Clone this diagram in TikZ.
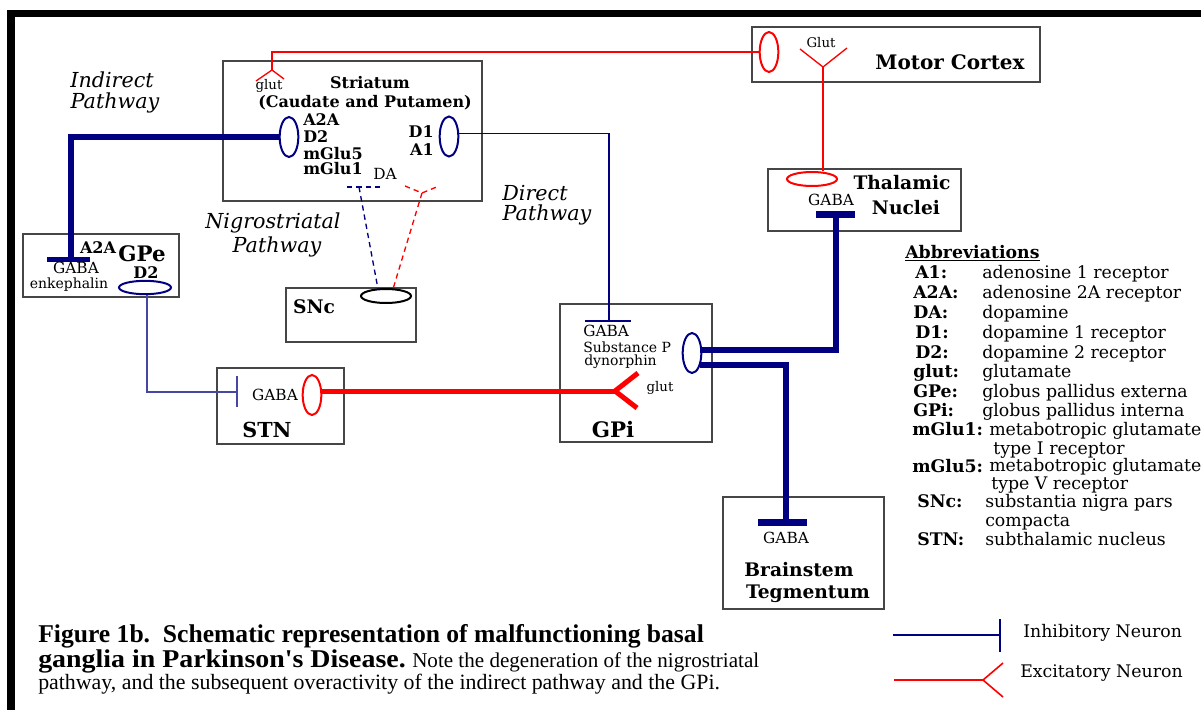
\documentclass[tikz,border=0pt]{standalone}
\usepackage{fontspec}
\usepackage{graphicx}
\setmainfont{DejaVu Serif}
\newfontfamily\tnr{Liberation Serif}
\usetikzlibrary{shapes.geometric,fit,calc}
\definecolor{navy}{RGB}{0,0,128}
\definecolor{lnavy}{RGB}{70,70,165}
\definecolor{rd}{RGB}{255,0,0}
\definecolor{bx}{RGB}{70,70,70}
\newcommand{\fsz}[1]{\fontsize{#1}{#1}\selectfont}
\begin{document}
\begin{tikzpicture}[x=0.75pt,y=-0.75pt,
  box/.style={draw=bx, line width=1.1pt, inner sep=0pt},
  vell/.style={ellipse, draw, line width=1.5pt, minimum width=14pt, minimum height=30pt, inner sep=0pt},
  hell/.style={ellipse, draw, line width=1.5pt, minimum width=37.5pt, minimum height=10.5pt, inner sep=0pt},
  lbl/.style={inner sep=0pt, font=\bfseries\fsz{12}},
  big/.style={inner sep=0pt, font=\bfseries\fsz{14}},
  sml/.style={inner sep=0pt, font=\fsz{10.5}},
  gaba/.style={inner sep=0pt, font=\fsz{11.5}},
  ital/.style={inner sep=0pt, font=\itshape\fsz{15.5}},
  abk/.style={inner sep=0pt, anchor=base west, font=\bfseries\fsz{13}},
  abv/.style={inner sep=0pt, anchor=base west, font=\fsz{13}},
  thin/.style={line width=1pt},
  thickblue/.style={draw=navy, line width=4.5pt},
  dsh/.style={line width=1pt, dash pattern=on 4pt off 3pt}
]
\useasboundingbox (0,0) rectangle (1201,710);
% frame
\fill[black] (7,10) rectangle (1201,17);
\fill[black] (7,10) rectangle (15,710);

% boxes
\node[box, fit={(752,27) (1040,82)}] (mc) {};
\node[box, fit={(768,169) (961,231)}] (th) {};
\node[box, fit={(223,61) (482,201)}] (st) {};
\node[box, fit={(23,234) (179,297)}] (gpe) {};
\node[box, fit={(286,288) (416,342)}] (snc) {};
\node[box, fit={(217,368) (344,444)}] (stn) {};
\node[box, fit={(560,304) (712,442)}] (gpi) {};
\node[box, fit={(723,497) (884,609)}] (bt) {};

% connector coordinates
\coordinate (stfork) at (272,70);
\coordinate (mcfork) at (823,67);
\coordinate (thbar) at (836,214.5);
\coordinate (btbar) at (786,522.5);
\coordinate (gpebar) at (71,259.5);
\coordinate (gpibar) at (609,321);
\coordinate (stnbar) at (237,392);
\coordinate (gpifork) at (615,391);
\coordinate (dabar) at (359,187);
\coordinate (dafork) at (422,193);

% ellipses
\node[vell, draw=rd] (mcE) at (769,52) {};
\node[hell, draw=rd] (thE) at (812,179) {};
\node[vell, draw=navy] (stL) at (289,137) {};
\node[vell, draw=navy] (stR) at (449,136.5) {};
\node[hell, draw=navy, minimum width=39pt, minimum height=10pt] (gpeE) at (145,287.5) {};
\node[hell, draw=black] (sncE) at (386,296) {};
\node[vell, draw=rd] (stnE) at (312,395) {};
\node[vell, draw=navy] (gpiE) at (692,353) {};

% motor cortex -> striatum (glut)
\draw[rd, thin] (mcE.west) -| (stfork);
\draw[rd, thin] ($(stfork)+(-16,11)$) -- (stfork) -- ($(stfork)+(12,9)$);
% motor cortex glut -> thalamic
\draw[rd, thin] ($(mcfork)+(-23,-18)$) -- (mcfork) -- ($(mcfork)+(24,-19)$);
\draw[rd, thin] (mcfork) -- (mcfork |- thE.north);
% GPi -> thalamic
\draw[thickblue] ($(gpiE.east)+(-2,-3.5)$) -| (thbar);
\draw[draw=navy, line width=5.5pt] ($(thbar)+(-20,0)$) -- ($(thbar)+(19,0)$);
% GPi -> brainstem
\draw[thickblue] ($(gpiE.east)+(-2,11.5)$) -| (btbar);
\draw[draw=navy, line width=5.5pt] ($(btbar)+(-28,0)$) -- ($(btbar)+(21,0)$);
% indirect pathway
\draw[draw=navy, line width=4pt] (stL.west) -| (gpebar);
\draw[draw=navy, line width=4pt] ($(gpebar)+(-24,0)$) -- ($(gpebar)+(19,0)$);
% direct pathway
\draw[navy, thin] ($(stR.east)+(0,-3)$) -| (gpibar);
\draw[navy, thin] ($(gpibar)+(-24,0)$) -- ($(gpibar)+(22,0)$);
% GPe -> STN
\draw[lnavy, thin] ($(gpeE.south)+(2,0)$) |- (stnbar);
\draw[lnavy, thin] ($(stnbar)+(0,-16)$) -- ($(stnbar)+(0,15)$);
% STN -> GPi
\draw[rd, line width=3.75pt] (stnE.east |- gpifork) -- (gpifork);
\draw[rd, line width=3.75pt, line join=round] ($(gpifork)+(23,-18)$) -- (gpifork) -- ($(gpifork)+(22,17)$);
% nigrostriatal
\draw[navy, dsh] ($(dabar)+(-12,0)$) -- ($(dabar)+(21,0)$);
\draw[navy, dsh] (dabar) -- ($(sncE.north)+(-8,1)$);
\draw[rd, dsh] ($(dafork)+(-17,-7)$) -- (dafork) -- ($(dafork)+(17,-7)$);
\draw[rd, dsh] (dafork) -- ($(sncE.north)+(7,1)$);

% texts: striatum
\node[inner sep=0pt, font=\fsz{10}] (t1) at (269,86) {glut};
\node[lbl] (t2) at (370,83) {Striatum};
\node[lbl] (t3) at (365,103) {(Caudate and Putamen)};
\node[lbl, anchor=west] (t4) at (303,120) {A2A};
\node[lbl, anchor=west] (t5) at (303,137) {D2};
\node[lbl, anchor=west] (t6) at (303,154) {mGlu5};
\node[lbl, anchor=west] (t7) at (303,169) {mGlu1};
\node[lbl, anchor=east] (t8) at (434,132) {D1};
\node[lbl, anchor=east] (t9) at (434,150) {A1};
\node[gaba] (t10) at (385,174) {DA};
% motor cortex
\node[inner sep=0pt, font=\fsz{10}] (t11) at (821,43) {Glut};
\node[inner sep=0pt, font=\bfseries\fsz{15}] (t12) at (950,62) {Motor Cortex};
% thalamic
\node[big] (t13) at (902,183) {Thalamic};
\node[big] (t14) at (906,208) {Nuclei};
\node[gaba] (t15) at (831,200) {GABA};
% GPe
\node[lbl] (t16) at (98,248) {A2A};
\node[inner sep=0pt, font=\bfseries\fsz{16}] (t17) at (142,254) {GPe};
\node[lbl] (t18) at (146,273) {D2};
\node[gaba] (t19) at (76,268) {GABA};
\node[sml] (t20) at (69,285) {enkephalin};
% SNc
\node[big] (t21) at (314,307) {SNc};
% STN
\node[gaba] (t22) at (275,395) {GABA};
\node[inner sep=0pt, font=\bfseries\fsz{15.5}] (t23) at (267,430) {STN};
% GPi
\node[gaba, anchor=west] (t24) at (583,331) {GABA};
\node[sml, anchor=west] (t25) at (583,347) {Substance P};
\node[sml, anchor=west] (t26) at (584,362) {dynorphin};
\node[inner sep=0pt, font=\fsz{10}] (t27) at (660,388) {glut};
\node[inner sep=0pt, font=\bfseries\fsz{16}] (t28) at (613,430) {GPi};
% brainstem
\node[gaba] (t29) at (786,538) {GABA};
\node[big] (t30) at (799,570) {Brainstem};
\node[big] (t31) at (808,594) {Tegmentum};

% pathway labels
\node[ital] (p1) at (112,80) {Indirect};
\node[ital] (p2) at (115,103) {Pathway};
\node[ital] (p3) at (273,223) {Nigrostriatal};
\node[ital] (p4) at (277,247) {Pathway};
\node[ital] (p5) at (535,193) {Direct};
\node[ital] (p6) at (547,215) {Pathway};

% abbreviations
\node[abk] (ab) at (905,258) {\underline{Abbreviations}};
\node[abk] (k1) at (915,278) {A1:};   \node[abv] (v1) at (982,278) {adenosine 1 receptor};
\node[abk] (k2) at (913,298) {A2A:};  \node[abv] (v2) at (982,298) {adenosine 2A receptor};
\node[abk] (k3) at (913,318) {DA:};   \node[abv] (v3) at (982,318) {dopamine};
\node[abk] (k4) at (915,338) {D1:};   \node[abv] (v4) at (982,338) {dopamine 1 receptor};
\node[abk] (k5) at (915,358) {D2:};   \node[abv] (v5) at (982,358) {dopamine 2 receptor};
\node[abk] (k6) at (913,377) {glut:}; \node[abv] (v6) at (982,377) {glutamate};
\node[abk] (k7) at (913,397) {GPe:};  \node[abv] (v7) at (982,397) {globus pallidus externa};
\node[abk] (k8) at (913,416) {GPi:};  \node[abv] (v8) at (982,416) {globus pallidus interna};
\node[abk] (k9) at (912,435) {mGlu1:}; \node[abv] (v9) at (989,435) {metabotropic glutamate};
\node[abv] (v9b) at (993,454) {type I receptor};
\node[abk] (k10) at (912,472) {mGlu5:}; \node[abv] (v10) at (989,471) {metabotropic glutamate};
\node[abv] (v10b) at (991,489) {type V receptor};
\node[abk] (k11) at (917,507) {SNc:};  \node[abv] (v11) at (985,507) {substantia nigra pars};
\node[abv] (v11b) at (985,526) {compacta};
\node[abk] (k12) at (917,545) {STN:};  \node[abv] (v12) at (985,545) {subthalamic nucleus};

% legend
\coordinate (li0) at (893,635); \coordinate (li1) at (1000,635);
\draw[navy, line width=1.2pt] (li0) -- (li1);
\draw[navy, line width=1.2pt] ($(li1)+(0,-16)$) -- ($(li1)+(0,17)$);
\coordinate (le0) at (894,680); \coordinate (le1) at (983,680);
\draw[rd, line width=1.2pt] (le0) -- (le1);
\draw[rd, line width=1.2pt] ($(le1)+(20,-17)$) -- (le1) -- ($(le1)+(20,17)$);
\node[abv] (lg1) at (1023,637) {Inhibitory Neuron};
\node[abv] (lg2) at (1020,677) {Excitatory Neuron};

% caption
\node[inner sep=0pt, anchor=base west, font=\tnr\bfseries\fsz{19.2}] (c1) at (38,642) {Figure 1b.\ \ Schematic representation of malfunctioning basal};
\node[inner sep=0pt, anchor=base west, font=\tnr\bfseries\fsz{19.2}] (c2) at (38,667) {\scalebox{1.09}[1]{ganglia in Parkinson's Disease.}};
\node[inner sep=0pt, anchor=base west, font=\tnr\fsz{15.8}] (c2b) at (412,667) {Note the degeneration of the nigrostriatal};
\node[inner sep=0pt, anchor=base west, font=\tnr\fsz{16.4}] (c3) at (38,689) {pathway, and the subsequent overactivity of the indirect pathway and the GPi.};
\end{tikzpicture}
\end{document}
